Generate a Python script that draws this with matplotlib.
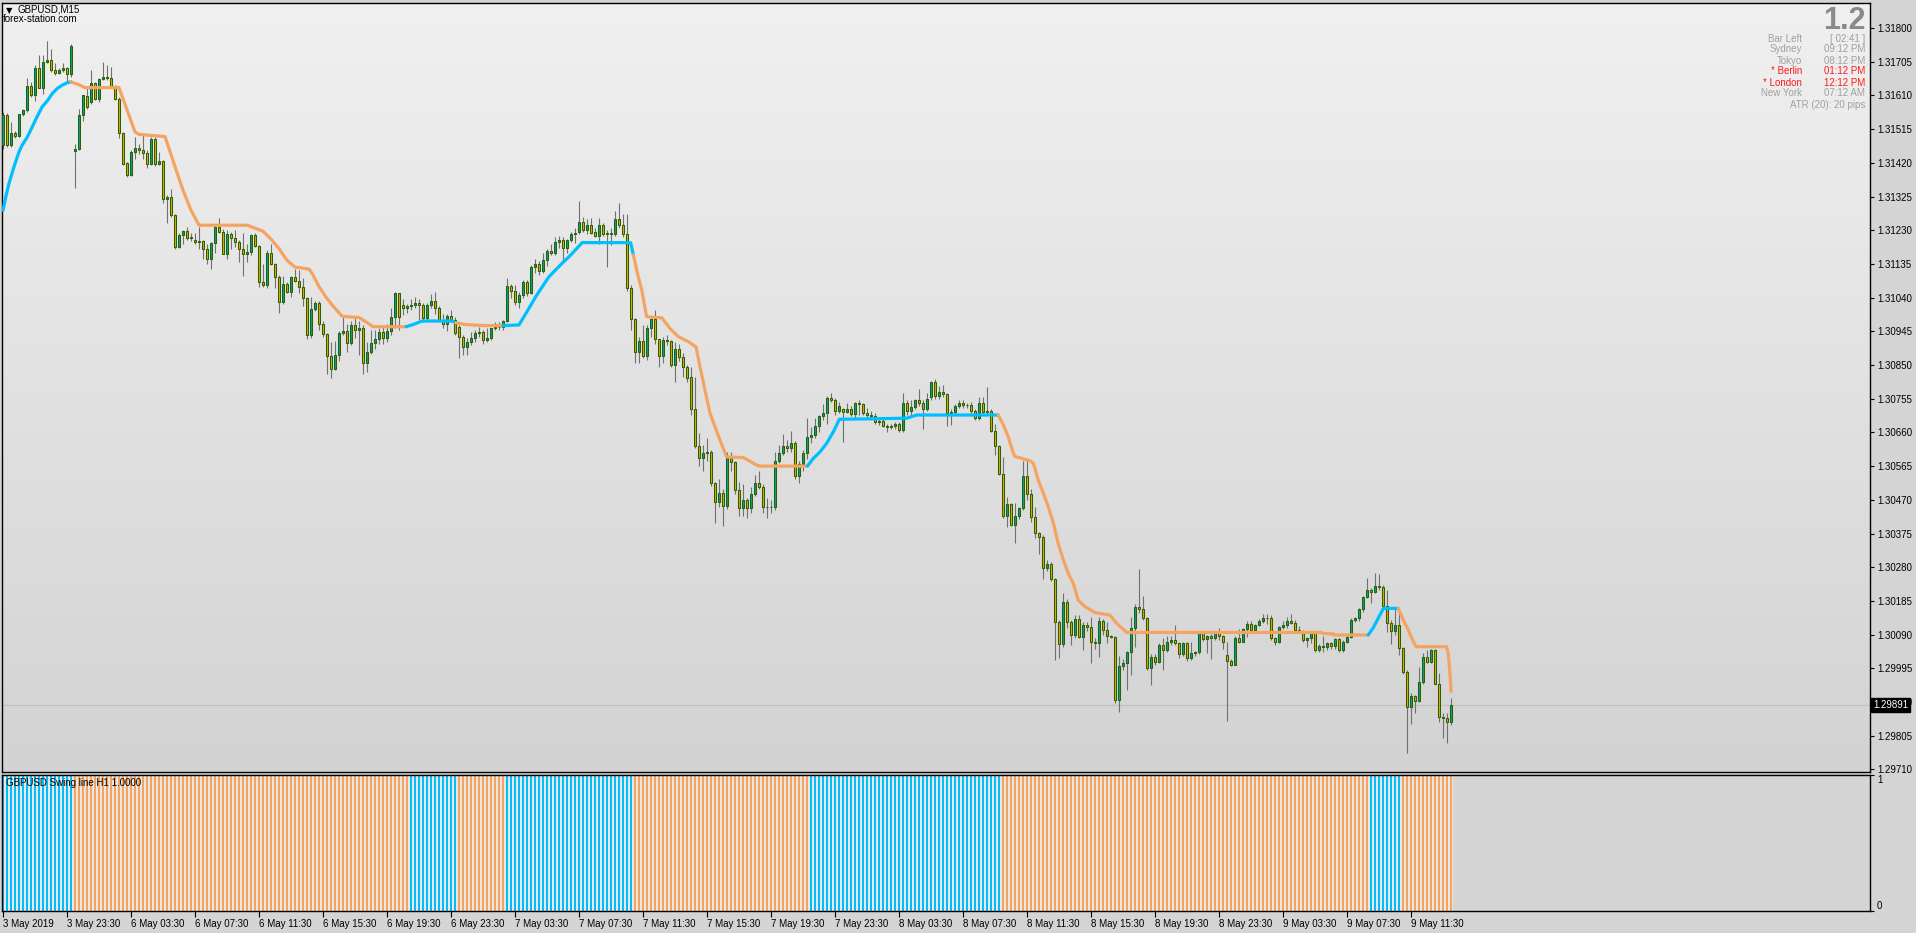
import numpy as np
import matplotlib
matplotlib.use("Agg")
import matplotlib.pyplot as plt
from matplotlib.colors import LinearSegmentedColormap
from matplotlib.transforms import blended_transform_factory

plt.rcParams['font.family'] = ['Liberation Sans', 'DejaVu Sans']

# ---- data: GBPUSD M15, prices given in pips above 1.29000 ----
BASE = 1.29
BID = 1.29891

opens = [
    247.0, 255.4, 247.0, 250.3, 249.5, 255.7, 256.8, 263.6, 261.1, 268.8,
    263.2, 270.5, 271.1, 268.1, 267.2, 268.3, 268.6, 267.0, 245.4, 245.8,
    255.4, 260.8, 259.2, 264.4, 259.9, 265.5, 266.2, 265.8, 263.6, 260.1,
    250.3, 242.0, 238.5, 245.1, 246.3, 245.6, 244.8, 241.8, 248.6, 241.6,
    242.5, 231.9, 232.4, 227.2, 218.3, 221.6, 222.7, 220.7, 220.2, 219.7,
    220.0, 217.8, 215.0, 219.5, 223.8, 222.5, 216.4, 221.9, 220.7, 219.7,
    217.8, 216.4, 216.8, 221.6, 218.5, 208.4, 207.5, 216.6, 213.6, 209.9,
    202.8, 207.8, 205.6, 209.7, 208.7, 207.1, 203.8, 193.4, 200.7, 202.6,
    196.5, 193.7, 187.5, 184.0, 187.8, 193.9, 194.5, 191.3, 196.3, 195.0,
    195.5, 185.6, 188.7, 191.1, 192.2, 194.4, 192.5, 194.6, 198.6, 205.2,
    201.9, 201.0, 201.5, 201.8, 202.6, 201.8, 198.2, 201.9, 203.1, 201.0,
    197.6, 196.7, 198.8, 197.6, 195.8, 192.8, 190.0, 191.6, 192.5, 194.1,
    194.4, 192.1, 192.5, 195.3, 195.8, 195.6, 197.5, 207.2, 206.0, 202.8,
    204.7, 208.5, 205.4, 212.5, 213.5, 211.6, 214.6, 217.0, 216.7, 219.8,
    220.3, 217.9, 220.2, 222.0, 222.6, 225.4, 223.0, 224.6, 222.6, 221.5,
    224.5, 222.0, 222.1, 221.8, 226.3, 224.5, 221.9, 206.6, 198.1, 188.7,
    191.8, 187.6, 195.3, 197.9, 192.2, 187.6, 192.0, 191.8, 185.0, 189.4,
    187.3, 184.3, 181.5, 172.5, 162.1, 158.9, 160.2, 160.5, 151.6, 146.4,
    149.0, 145.2, 158.7, 157.7, 149.7, 144.6, 146.9, 144.6, 148.6, 151.8,
    150.7, 145.0, 144.9, 145.0, 158.0, 160.1, 162.1, 161.6, 163.1, 153.7,
    157.2, 160.1, 164.8, 165.2, 167.8, 170.6, 171.4, 175.6, 175.2, 172.1,
    172.5, 171.8, 172.5, 171.2, 174.2, 173.9, 171.6, 171.0, 170.6, 169.0,
    169.2, 167.8, 167.5, 167.8, 168.3, 166.6, 174.4, 172.0, 173.1, 175.1,
    174.4, 172.5, 175.9, 180.1, 176.4, 177.5, 176.8, 171.4, 171.8, 173.4,
    174.4, 173.6, 173.8, 172.1, 170.0, 174.2, 171.8, 172.1, 166.5, 162.2,
    154.3, 142.4, 145.8, 139.9, 142.4, 144.6, 153.7, 148.6, 142.2, 137.7,
    136.6, 127.7, 128.9, 124.8, 112.6, 106.3, 118.3, 112.6, 108.9, 113.3,
    108.4, 111.7, 111.1, 107.0, 106.7, 112.9, 110.3, 108.6, 108.4, 90.5,
    100.1, 101.0, 104.2, 110.8, 116.9, 116.1, 113.6, 99.5, 102.8, 101.4,
    106.1, 104.6, 107.0, 107.5, 106.5, 103.5, 106.7, 102.3, 103.7, 104.2,
    109.5, 107.7, 108.6, 108.0, 109.4, 108.6, 103.3, 101.7, 100.5, 108.0,
    107.0, 110.5, 112.0, 110.3, 111.7, 112.9, 113.8, 113.6, 108.0, 107.0,
    111.1, 111.7, 112.9, 112.2, 110.3, 110.1, 107.5, 108.0, 109.4, 104.7,
    105.8, 105.4, 106.6, 105.8, 107.7, 104.7, 107.0, 108.4, 113.1, 113.6,
    116.1, 119.5, 121.6, 121.1, 122.7, 122.4, 117.1, 112.4, 109.9, 111.7,
    105.2, 98.6, 88.7, 91.7, 90.4, 95.5, 102.8, 101.4, 104.7, 95.1,
    85.7, 85.4, 84.5,
]
highs = [
    256.4, 256.0, 253.6, 251.0, 255.9, 257.3, 265.8, 264.8, 269.5, 272.4,
    272.4, 276.3, 274.2, 270.0, 268.8, 270.2, 269.1, 275.5, 247.4, 257.3,
    261.1, 263.0, 268.1, 264.8, 265.8, 270.5, 269.5, 269.1, 263.9, 260.6,
    250.7, 242.3, 245.6, 249.3, 247.4, 249.7, 245.6, 249.3, 249.3, 245.1,
    242.8, 232.9, 234.5, 227.5, 222.1, 223.0, 223.9, 222.1, 222.1, 223.9,
    220.2, 219.2, 219.7, 224.4, 226.5, 223.2, 223.0, 222.5, 223.0, 220.2,
    222.1, 219.2, 221.9, 222.1, 218.8, 213.6, 217.4, 219.2, 213.8, 210.3,
    210.0, 208.4, 210.0, 212.2, 211.7, 209.4, 204.2, 204.2, 203.0, 203.0,
    197.5, 194.0, 191.5, 191.7, 194.5, 198.5, 196.6, 197.5, 198.5, 197.5,
    196.3, 191.5, 195.0, 194.8, 195.5, 196.3, 196.6, 201.0, 205.5, 205.4,
    203.5, 202.2, 203.5, 204.2, 203.5, 202.5, 202.5, 205.0, 205.5, 201.5,
    199.5, 199.5, 200.5, 198.5, 196.2, 193.5, 192.5, 194.4, 195.0, 195.8,
    194.8, 195.3, 195.5, 197.0, 197.2, 197.8, 209.6, 207.8, 207.5, 205.5,
    209.0, 209.0, 213.2, 215.0, 214.2, 216.5, 217.8, 219.0, 221.0, 221.5,
    221.0, 220.5, 222.5, 223.5, 231.2, 226.6, 226.1, 226.5, 223.5, 226.5,
    225.0, 223.0, 223.5, 228.4, 230.8, 227.5, 227.5, 207.5, 198.3, 193.0,
    196.2, 196.2, 198.2, 200.5, 192.4, 193.0, 193.5, 192.0, 191.6, 191.0,
    188.5, 185.0, 184.3, 181.5, 165.7, 162.5, 164.5, 161.0, 152.1, 153.0,
    150.0, 160.5, 160.5, 158.0, 152.0, 151.5, 147.5, 150.6, 153.9, 155.0,
    151.5, 147.5, 147.0, 160.5, 162.5, 165.5, 164.0, 166.5, 163.5, 158.0,
    161.0, 170.2, 167.5, 170.2, 171.0, 174.1, 176.4, 177.0, 175.8, 174.5,
    173.0, 174.4, 173.5, 174.5, 175.0, 174.4, 172.8, 172.0, 171.5, 170.0,
    170.0, 168.5, 168.5, 169.0, 168.8, 177.2, 175.0, 175.1, 175.5, 178.3,
    175.0, 177.0, 180.5, 181.0, 179.0, 179.5, 177.0, 172.5, 174.0, 175.0,
    175.0, 174.2, 174.5, 172.5, 175.9, 175.9, 178.9, 172.5, 168.5, 162.5,
    159.1, 147.9, 146.0, 146.0, 145.0, 157.8, 158.2, 150.0, 145.0, 138.0,
    137.0, 130.0, 129.5, 125.0, 113.0, 120.6, 119.0, 113.0, 114.5, 114.5,
    112.5, 112.5, 114.0, 108.0, 114.0, 113.5, 112.5, 109.0, 108.6, 102.9,
    102.0, 104.5, 114.0, 117.5, 127.4, 119.8, 114.0, 103.5, 103.5, 106.5,
    108.0, 108.5, 108.5, 111.7, 107.0, 107.0, 107.0, 107.0, 104.5, 110.0,
    109.8, 109.0, 109.2, 109.8, 111.0, 109.0, 106.9, 102.0, 108.5, 110.5,
    111.0, 112.7, 112.9, 112.0, 113.3, 114.8, 114.8, 114.6, 108.4, 111.3,
    112.9, 113.9, 114.8, 113.0, 111.4, 110.3, 108.4, 109.8, 109.8, 106.3,
    108.6, 107.0, 107.0, 108.0, 108.0, 107.5, 108.8, 113.6, 114.0, 116.4,
    119.9, 124.9, 122.0, 126.3, 126.1, 123.0, 121.7, 113.0, 116.4, 115.9,
    105.5, 99.0, 92.5, 92.0, 100.0, 103.9, 104.7, 105.0, 104.9, 98.1,
    87.0, 86.8, 91.0,
]
lows = [
    246.0, 246.5, 246.5, 249.0, 249.3, 255.2, 256.4, 260.6, 259.4, 263.0,
    261.5, 270.0, 267.7, 266.7, 267.0, 267.7, 264.8, 266.2, 234.9, 245.6,
    253.8, 257.3, 258.7, 259.7, 259.2, 265.3, 265.3, 263.4, 259.7, 248.9,
    241.5, 238.0, 238.3, 243.2, 244.6, 243.2, 240.4, 241.3, 241.1, 241.3,
    230.7, 225.1, 226.8, 217.8, 218.1, 219.2, 220.2, 220.0, 219.2, 217.8,
    215.0, 213.6, 212.2, 216.6, 222.1, 216.2, 215.0, 217.8, 218.3, 214.1,
    210.1, 214.1, 216.0, 218.3, 207.0, 207.0, 206.6, 213.1, 206.6, 199.7,
    202.3, 205.2, 204.2, 208.4, 205.2, 201.6, 192.2, 192.7, 200.2, 195.0,
    193.0, 182.6, 181.2, 183.5, 186.0, 193.5, 188.6, 190.5, 192.5, 187.8,
    182.5, 183.0, 188.0, 189.5, 191.0, 191.0, 191.5, 193.5, 195.5, 195.0,
    199.0, 199.7, 200.5, 201.0, 197.6, 197.0, 197.5, 201.0, 199.5, 197.0,
    195.5, 194.5, 197.0, 193.5, 187.0, 187.8, 187.8, 190.5, 191.5, 193.0,
    191.0, 191.5, 192.0, 194.8, 195.0, 195.0, 197.0, 204.0, 202.0, 201.0,
    204.0, 204.5, 205.0, 211.0, 210.5, 211.0, 213.0, 216.0, 216.0, 218.0,
    214.0, 216.5, 219.8, 219.5, 222.0, 222.5, 222.0, 221.8, 221.0, 219.0,
    221.5, 212.5, 218.8, 221.5, 223.5, 221.0, 206.0, 195.0, 185.5, 185.7,
    187.0, 186.5, 193.0, 191.0, 184.3, 185.5, 190.5, 184.5, 180.3, 186.0,
    181.5, 180.3, 171.0, 161.5, 156.5, 155.0, 158.0, 151.0, 140.6, 145.0,
    139.6, 144.5, 155.0, 148.5, 142.5, 142.5, 141.8, 143.3, 148.0, 150.0,
    143.3, 141.8, 143.3, 144.0, 157.5, 159.5, 160.5, 160.5, 153.0, 151.6,
    155.0, 158.5, 163.0, 164.5, 166.0, 169.5, 168.5, 174.5, 171.0, 171.5,
    163.2, 171.5, 170.5, 170.0, 171.0, 171.0, 170.0, 169.5, 168.5, 168.0,
    167.5, 166.2, 167.0, 167.0, 166.0, 166.0, 171.0, 170.4, 172.5, 173.5,
    166.9, 172.0, 175.0, 175.5, 175.5, 176.0, 167.8, 168.1, 171.0, 173.0,
    173.0, 173.0, 171.5, 169.5, 169.5, 171.0, 171.0, 166.0, 159.6, 154.0,
    141.8, 139.4, 139.5, 134.7, 141.5, 144.0, 147.0, 140.8, 136.1, 131.6,
    124.6, 127.0, 124.0, 101.8, 102.3, 105.5, 111.0, 106.1, 108.0, 108.0,
    104.8, 110.0, 100.9, 105.0, 102.8, 109.0, 106.5, 108.0, 89.6, 87.2,
    99.0, 93.4, 97.6, 105.6, 115.0, 113.0, 99.0, 94.8, 100.5, 101.0,
    99.0, 104.0, 106.0, 106.0, 102.3, 103.0, 101.5, 101.8, 103.0, 103.5,
    107.2, 103.7, 102.0, 107.5, 107.5, 104.9, 84.7, 100.1, 100.4, 106.5,
    106.8, 108.4, 110.0, 110.0, 111.5, 112.4, 112.0, 107.5, 106.1, 106.5,
    110.5, 111.0, 112.0, 110.0, 109.5, 107.0, 105.6, 106.5, 104.0, 104.0,
    104.2, 104.8, 105.0, 105.0, 104.2, 104.0, 106.5, 108.0, 112.5, 112.8,
    115.5, 119.2, 117.8, 120.6, 121.6, 116.4, 109.8, 106.3, 109.0, 103.3,
    98.0, 75.5, 83.9, 86.8, 90.0, 95.0, 101.0, 101.0, 95.0, 84.5,
    79.8, 78.4, 83.5,
]
closes = [
    255.4, 247.0, 250.3, 249.5, 255.7, 256.8, 263.6, 261.1, 268.8, 263.2,
    270.5, 271.1, 268.1, 267.2, 268.3, 268.6, 267.0, 275.0, 246.0, 255.4,
    261.1, 257.8, 264.4, 259.9, 265.5, 266.2, 265.8, 263.6, 260.1, 250.3,
    241.8, 238.5, 245.1, 246.3, 245.6, 244.8, 241.8, 248.6, 241.6, 242.5,
    231.9, 232.4, 227.2, 218.3, 221.6, 222.7, 220.7, 221.1, 219.7, 220.0,
    217.8, 215.0, 219.5, 223.8, 222.5, 216.4, 221.9, 220.7, 219.7, 217.8,
    216.4, 216.8, 221.6, 218.5, 208.4, 207.5, 216.6, 213.6, 209.9, 202.8,
    207.8, 205.6, 209.7, 208.7, 207.0, 203.8, 193.4, 200.7, 202.6, 196.5,
    193.7, 187.5, 184.0, 187.8, 193.9, 194.5, 191.3, 196.3, 195.0, 195.5,
    185.6, 188.7, 191.1, 192.2, 194.4, 192.5, 194.6, 198.6, 205.2, 198.6,
    201.0, 201.5, 201.8, 202.6, 201.8, 198.2, 201.9, 203.1, 201.0, 197.6,
    196.7, 198.8, 197.6, 194.1, 192.8, 190.0, 191.6, 192.5, 194.1, 194.4,
    192.1, 192.5, 195.3, 195.8, 195.6, 197.5, 207.2, 206.0, 202.8, 204.7,
    208.5, 205.4, 212.5, 213.5, 211.6, 214.6, 217.0, 216.7, 219.8, 220.3,
    217.9, 220.2, 222.0, 222.2, 225.4, 223.0, 224.6, 222.3, 221.5, 224.5,
    222.0, 222.1, 221.8, 226.3, 224.5, 221.9, 206.6, 198.1, 188.7, 191.8,
    187.6, 195.3, 197.9, 192.2, 187.6, 192.0, 191.8, 185.0, 189.4, 187.3,
    184.3, 181.2, 172.5, 162.1, 158.9, 160.2, 160.5, 151.6, 146.4, 149.0,
    145.2, 158.7, 157.7, 149.7, 144.6, 146.9, 144.6, 148.6, 151.8, 150.7,
    145.0, 144.9, 145.0, 158.0, 160.1, 162.1, 161.6, 163.1, 153.7, 157.2,
    160.1, 164.8, 165.2, 167.8, 170.6, 171.4, 175.6, 175.2, 172.1, 173.4,
    171.8, 172.5, 171.2, 174.2, 173.9, 171.6, 171.0, 170.6, 169.0, 169.2,
    167.8, 167.5, 167.8, 168.3, 166.6, 174.4, 172.0, 173.1, 175.1, 174.4,
    172.5, 175.5, 180.1, 176.4, 177.5, 176.8, 171.4, 171.8, 173.4, 174.4,
    173.6, 173.8, 172.1, 170.0, 174.2, 171.8, 172.1, 166.5, 162.2, 154.3,
    142.4, 145.8, 139.9, 142.4, 144.6, 153.7, 148.6, 142.2, 137.7, 136.6,
    127.7, 128.9, 124.8, 112.6, 106.3, 118.3, 112.6, 108.9, 113.3, 108.4,
    111.7, 111.1, 107.0, 106.7, 112.9, 110.3, 108.6, 108.4, 90.5, 100.1,
    101.0, 104.2, 110.8, 116.9, 116.1, 113.6, 99.5, 102.8, 101.4, 106.1,
    104.6, 107.0, 107.5, 106.5, 103.5, 106.7, 102.3, 103.7, 104.2, 109.5,
    107.7, 108.6, 108.0, 109.4, 108.6, 106.8, 101.7, 100.5, 108.0, 107.0,
    110.5, 112.0, 110.3, 111.7, 112.9, 113.8, 113.6, 108.0, 107.0, 111.1,
    111.7, 112.9, 112.2, 110.3, 110.1, 107.5, 108.0, 109.4, 104.7, 105.8,
    105.4, 106.6, 105.8, 107.7, 104.7, 107.0, 108.4, 113.1, 113.6, 116.1,
    119.5, 121.6, 121.1, 122.7, 122.4, 117.1, 112.4, 109.9, 111.7, 105.2,
    98.6, 88.7, 91.7, 90.4, 95.5, 102.8, 101.4, 104.7, 95.1, 85.7,
    85.4, 84.5, 89.1,
]

# swing line vertices (bar index, pips above 1.29)
swing_bar = [
    0, 0.7, 1.5, 2.75, 4, 4.8, 6.1, 7.3, 8.6, 9.8, 11.1, 12.3, 13.6, 14.8, 16.1, 17,
    19, 20.5, 29, 33, 34, 40.5, 43, 45, 47, 49, 61, 62, 65, 67, 69, 71, 73, 74.5,
    76.5, 77.3, 79, 80.7, 82.3, 84.7, 86, 89, 90.7, 92.5, 100.8,
    102.75, 104.8, 112.3, 113.2, 115.7, 117.3, 120.25, 125,
    129, 131.5, 133.2, 136.5, 139.8, 141.5, 144.8, 156.9,
    157.6, 158.8, 159.7, 160.9, 164.7, 166.75, 168.8, 171.3, 173.25, 174.25, 175.5,
    176.75, 178, 179.25, 180.9, 185.1, 188.4, 189.25, 201.1,
    202.6, 204.25, 205.9, 207.6, 209.1, 225.9, 228.4, 248.8,
    250.1, 251.3, 252.6, 253, 256.75, 257.6, 258.8, 260.1, 261.3, 262.6, 263.8,
    265.1, 266.3, 267.6, 268.8, 270.5, 273, 276.75, 278.4, 280.9, 329.7,
    330.1, 332.6, 332.75, 341.3, 342.6, 343.8, 345.1, 348.8,
    350.1, 351.3, 352.6, 353.25, 360.9, 361.3, 361.6, 361.9, 362,
]
swing_pips = [
    228.6, 232.4, 236.2, 240.9, 245.1, 247.0, 249.3, 252.1, 255.2, 257.8, 259.5, 261.5, 263.0, 263.9, 264.6, 264.8,
    264.0, 263.2, 263.2, 250.7, 250.0, 249.4, 240.9, 234.3, 228.6, 224.4, 224.4, 224.0, 222.7, 220.5, 217.8, 214.5, 212.6, 212.4,
    212.0, 210.8, 207.1, 204.2, 201.9, 198.8, 198.6, 198.4, 197.2, 195.8, 195.8,
    196.5, 197.4, 197.4, 196.9, 196.4, 196.3, 196.1, 196.1,
    196.3, 201.0, 204.3, 209.9, 213.7, 215.5, 219.5, 219.5,
    216.0, 209.9, 206.1, 198.6, 198.3, 195.3, 193.0, 191.6, 190.1, 184.5, 177.9,
    171.4, 167.6, 163.8, 159.1, 158.9, 156.8, 156.5, 156.5,
    158.7, 160.5, 162.9, 166.2, 169.7, 170.0, 170.9, 170.9,
    168.1, 164.8, 160.1, 159.2, 158.0, 157.3, 152.6, 148.8, 145.1, 140.4, 134.7,
    130.0, 126.3, 123.4, 118.7, 116.9, 115.2, 114.5, 112.2, 109.6, 109.6,
    109.3, 109.2, 108.9, 108.9, 111.0, 113.6, 116.4, 116.4,
    113.1, 110.3, 107.0, 105.6, 105.6, 103.7, 100.0, 95.3, 93.0,
]

# histogram runs in the lower window: (first bar, last bar, 1 = up / 0 = down)
trend_runs = [(0, 17, 1), (18, 101, 0), (102, 113, 1), (114, 125, 0), (126, 157, 1),
              (158, 201, 0), (202, 249, 1), (250, 341, 0), (342, 349, 1), (350, 362, 0)]

time_labels = ['3 May 2019', '3 May 23:30', '6 May 03:30', '6 May 07:30', '6 May 11:30',
               '6 May 15:30', '6 May 19:30', '6 May 23:30', '7 May 03:30', '7 May 07:30',
               '7 May 11:30', '7 May 15:30', '7 May 19:30', '7 May 23:30', '8 May 03:30',
               '8 May 07:30', '8 May 11:30', '8 May 15:30', '8 May 19:30', '8 May 23:30',
               '9 May 03:30', '9 May 07:30', '9 May 11:30']
LABEL_STEP = 16

info_names = ['Bar Left', 'Sydney', 'Tokyo', '* Berlin', '* London', 'New York']
info_values = ['[ 02:41 ]', '09:12 PM', '08:12 PM', '01:12 PM', '12:12 PM', '07:12 AM']
info_red = [False, False, False, True, True, False]

# ---- styling ----
UP_C = '#00bfff'
DN_C = '#f4a460'
BULL_FILL = '#00a0a0'
BEAR_FILL = '#e0a800'
EDGE = '#2a6000'
WICK = '#707070'

W, H, DPI = 1916, 933, 100
fig = plt.figure(figsize=(W / DPI, H / DPI), dpi=DPI, facecolor='#d4d4d4')


def px_axes(x0, y0, x1, y1):
    return fig.add_axes([x0 / W, 1 - y1 / H, (x1 - x0) / W, (y1 - y0) / H])


def ptext(x, y, s, **kw):
    fig.text(x / W, 1 - y / H, s, **kw)


ax = px_axes(2, 3, 1870, 772)
axh = px_axes(2, 775, 1870, 911)

o = BASE + np.array(opens) / 1e4
h = BASE + np.array(highs) / 1e4
l = BASE + np.array(lows) / 1e4
c = BASE + np.array(closes) / 1e4
n = len(c)
idx = np.arange(n)
h = np.maximum(h, np.maximum(o, c))
l = np.minimum(l, np.minimum(o, c))

XMIN, XMAX = -0.25, 466.75
YMIN, YMAX = 1.297027, 1.318705

# gradient background of the price window
cmap = LinearSegmentedColormap.from_list('bg', ['#f0f0f0', '#d3d3d3'])
ax.imshow(np.linspace(0, 1, 256).reshape(-1, 1), aspect='auto', cmap=cmap,
          extent=[XMIN, XMAX, YMIN, YMAX], zorder=0, interpolation='bilinear')

ax.axhline(BID, color='#c0c0c0', lw=0.8, zorder=1)

up = c >= o
ax.vlines(idx, l, h, color=WICK, lw=0.8, zorder=2)
body_lo = np.minimum(o, c)
body_h = np.maximum(np.abs(c - o), 0.00002)
ax.bar(idx, body_h, bottom=body_lo, width=0.5,
       color=np.where(up, BULL_FILL, BEAR_FILL), edgecolor=EDGE, linewidth=0.75, zorder=3)

# trend per bar
trend = np.zeros(n, dtype=int)
for a, b, t in trend_runs:
    trend[a:b + 1] = t

sx = np.array(swing_bar, dtype=float)
sy = BASE + np.array(swing_pips) / 1e4
seg_up = trend[np.minimum(np.floor(sx[1:]).astype(int), n - 1)]
start = 0
for k in range(1, len(seg_up) + 1):
    if k == len(seg_up) or seg_up[k] != seg_up[start]:
        col = UP_C if seg_up[start] else DN_C
        ax.plot(sx[start:k + 1], sy[start:k + 1], color=col, lw=2.3,
                solid_joinstyle='round', solid_capstyle='round', zorder=4)
        start = k

ax.set_xlim(XMIN, XMAX)
ax.set_ylim(YMIN, YMAX)
ax.set_xticks([])
yt = np.round(np.arange(1.29710, 1.318001, 0.00095), 5)
ax.set_yticks(yt)
ax.set_yticklabels(['%.5f' % v for v in yt])
ax.yaxis.tick_right()
ax.tick_params(axis='y', length=3, width=0.8, pad=2, labelsize=7, colors='black')
for s in ax.spines.values():
    s.set_color('black')
    s.set_linewidth(1)

trans = blended_transform_factory(ax.transAxes, ax.transData)
ax.text(1.0018, BID, '1.29891', transform=trans, ha='left', va='center', fontsize=7,
        color='white', bbox=dict(boxstyle='square,pad=0.2', fc='black', ec='black'),
        zorder=10, clip_on=False)

# lower window histogram: light gaps between the one-bar columns
axh.set_facecolor('#d4d4d4')
axh.bar(idx, np.ones(n), width=1.0, color='#ece6e0', linewidth=0, zorder=1)
axh.bar(idx, np.ones(n), width=0.74, color=np.where(trend == 1, UP_C, DN_C),
        linewidth=0, zorder=2)
axh.set_xlim(XMIN, XMAX)
axh.set_ylim(0, 1)
xt = np.arange(len(time_labels)) * LABEL_STEP
axh.set_xticks(xt)
axh.set_xticklabels(time_labels, ha='left')
axh.tick_params(axis='x', length=4, width=0.8, pad=1.5, labelsize=7, colors='black')
axh.set_yticks([0, 1])
axh.set_yticklabels(['0', '1'])
axh.yaxis.tick_right()
axh.tick_params(axis='y', length=3, width=0.8, pad=2, labelsize=7, colors='black')
lbls = axh.get_yticklabels()
lbls[0].set_va('bottom')
lbls[1].set_va('top')
for s in axh.spines.values():
    s.set_color('black')
    s.set_linewidth(1)

# header texts
ptext(6, 11, '\u25bc', fontsize=6, color='black', va='center', family=['DejaVu Sans'])
ptext(18, 10, 'GBPUSD,M15', fontsize=7, color='black', va='center')
ptext(3, 19.5, 'forex-station.com', fontsize=7, color='black', va='center')
ptext(6, 783, 'GBPUSD Swing line H1 1.0000', fontsize=7, color='black', va='center')

# info block
ptext(1866, 6, '1.2', fontsize=22, fontweight='bold', color='#8a8a8a', ha='right', va='top')
for k, (nm, val, red) in enumerate(zip(info_names, info_values, info_red)):
    y = 38.5 + k * 11.0
    col = '#ff1a1a' if red else '#a0a0a0'
    ptext(1802, y, nm, fontsize=7, color=col, ha='right', va='center')
    ptext(1865, y, val, fontsize=7, color=col, ha='right', va='center')
ptext(1865, 105, 'ATR (20): 20 pips', fontsize=7, color='#a0a0a0', ha='right', va='center')

fig.savefig('out.png', dpi=DPI, facecolor=fig.get_facecolor())
